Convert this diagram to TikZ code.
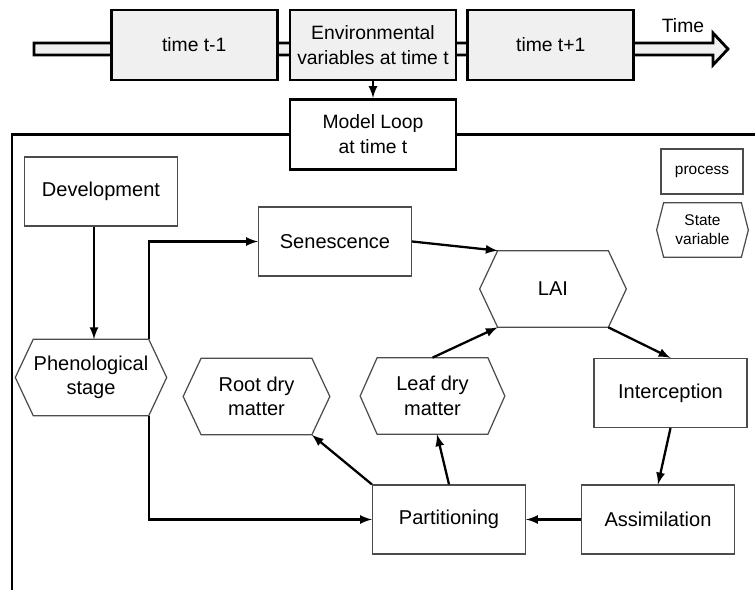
\documentclass[tikz,border=0pt]{standalone}
\usepackage{fontspec}
\setmainfont{Liberation Sans}
\usetikzlibrary{arrows,positioning}

\begin{document}
\begin{tikzpicture}[x=0.02cm,y=-0.02cm]
            \tikzstyle{slot} = [rectangle, draw, line width=1.6pt, fill=gray!12, minimum width=3.32cm, minimum height=1.4cm, align=center, font=\fontsize{11}{14}\selectfont]
            \tikzstyle{process} = [rectangle, draw=black!70, line width=0.7pt, minimum width=3.06cm, minimum height=1.38cm, align=center, font=\fontsize{11.4}{14}\selectfont]
            \tikzstyle{statevar} = [rectangle, inner sep=0pt, minimum width=2.2cm, minimum height=1.52cm, align=center, font=\fontsize{11.4}{14}\selectfont]
            \tikzstyle{hexline} = [draw=black!70, line width=0.7pt]
            \tikzstyle{conn} = [line width=1.3pt, ->, >=latex]
            \tikzstyle{frame} = [line width=1.6pt]

            \useasboundingbox (0,0) rectangle (755,590);

            % time line
            \draw [line width=1.6pt, fill=gray!12] (34,43) -- (713,43) -- (713,33) -- (728,49) -- (713,65) -- (713,55) -- (34,55) -- cycle;
            \node [font=\fontsize{11}{13}\selectfont] (timelbl) at (683,26) {Time};

            \node [slot] (envt) at (373,45) {Environmental\\variables at time t};
            \node [slot, left=0.2cm of envt] (tprev) {time t-1};
            \node [slot, right=0.18cm of envt] (tnext) {time t+1};
            \node [slot, fill=white, below=0.33cm of envt] (loop) {Model Loop\\at time t};
            \draw [conn] (envt) -- (loop);

            % model frame
            \coordinate (fbottom) at (12,590);
            \coordinate (redge) at (755,590);
            \coordinate (fcorner) at (loop.west -| fbottom);
            \coordinate (fright) at (loop.east -| redge);
            \draw [frame] (loop.west) -- (fcorner) -- (fbottom);
            \draw [frame] (loop.east) -- (fright);

            % processes
            \node [process] (dev) at (101,191.5) {Development};
            \node [process] (sen) at (335,241.5) {Senescence};
            \node [process] (interc) at (670.5,393) {Interception};
            \node [process] (part) at (449,519.5) {Partitioning};
            \node [process] (assim) at (658,519.5) {Assimilation};

            % state variables
            \node [statevar] (lai) at (553,289) {LAI};
            \node [statevar] (phen) at (91,377.5) {Phenological\\stage};
            \node [statevar] (root) at (256.5,396.5) {Root dry\\matter};
            \node [statevar] (leaf) at (432.5,396) {Leaf dry\\matter};

            % key
            \node [process, minimum width=1.64cm, minimum height=0.9cm, font=\fontsize{8.8}{11}\selectfont] (keyproc) at (702,171.5) {process};
            \node [statevar, minimum width=1.54cm, minimum height=1.08cm, font=\fontsize{8.8}{11}\selectfont] (keysv) at (702.5,230) {State\\variable};

            \foreach \n/\d in {phen/0.36cm, root/0.36cm, leaf/0.34cm, lai/0.36cm, keysv/0.14cm}
                \draw [hexline] (\n.north west) -- (\n.north east) -- ([xshift=\d]\n.east) -- (\n.south east) -- (\n.south west) -- ([xshift=-\d]\n.west) -- cycle;

            \draw [conn] ([xshift=-0.14cm]dev.south) -- ([xshift=-0.14cm]dev.south |- phen.north);
            \draw [conn] (phen.north east) |- (sen.west);
            \draw [conn] (phen.south east) |- (part.west);
            \draw [conn] (sen.east) -- (lai.north west);
            \draw [conn] (leaf.north) -- (lai.south west);
            \draw [conn] (lai.south east) -- (interc.north);
            \draw [conn] (interc.south) -- (assim.north);
            \draw [conn] (assim.west) -- (part.east);
            \draw [conn] (part.north) -- ([xshift=0.09cm]leaf.south);
            \draw [conn] (part.north west) -- (root.south east);
        \end{tikzpicture}
\end{document}
